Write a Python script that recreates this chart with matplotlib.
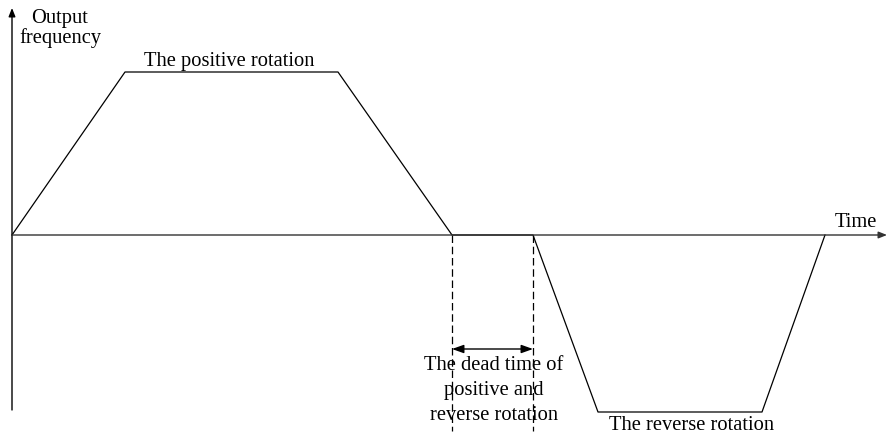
import matplotlib.pyplot as plt

plt.rcParams['font.family'] = ['Liberation Serif', 'DejaVu Serif']

# waveform: time vs output frequency
t = [0, 113, 326, 440, 521, 586, 750, 813]
f = [0, 163, 163, 0, 0, -177, -177, 0]

t_dead = [440, 521]

fig = plt.figure(figsize=(8.87, 4.39), dpi=100)
ax = fig.add_axes([0, 0, 1, 1])
ax.set_xlim(-12, 875)
ax.set_ylim(-203, 236)
ax.axis('off')

# axes with arrows
ax.annotate('', xy=(0, 227), xytext=(0, -175),
            arrowprops=dict(arrowstyle='-|>,head_length=0.5,head_width=0.2',
                            color='black', lw=1.0,
                            mutation_scale=10, shrinkA=0, shrinkB=0))
ax.annotate('', xy=(875, 0), xytext=(0, 0),
            arrowprops=dict(arrowstyle='-|>,head_length=0.5,head_width=0.2',
                            color='#333333', lw=1.0,
                            mutation_scale=10, shrinkA=0, shrinkB=0))

ax.plot(t, f, color='black', lw=0.9)

# dead time markers
for x in t_dead:
    ax.plot([x, x], [0, -196], color='black', lw=0.9, ls=(0, (6, 3)))
ax.annotate('', xy=(t_dead[0], -114), xytext=(t_dead[1], -114),
            arrowprops=dict(arrowstyle='<|-|>,head_length=0.7,head_width=0.25',
                            color='black', lw=1.0,
                            mutation_scale=10, shrinkA=0, shrinkB=0))

fs = 14.8
ax.text(48, 213, 'Output', ha='center', va='baseline', fontsize=fs)
ax.text(48, 193, 'frequency', ha='center', va='baseline', fontsize=fs)
ax.text(217, 170, 'The positive rotation', ha='center', va='baseline', fontsize=fs)
ax.text(865, 9, 'Time', ha='right', va='baseline', fontsize=fs)
dead_lines = ['The dead time of', 'positive and', 'reverse rotation']
for i, s in enumerate(dead_lines):
    ax.text(482, -134 - 25 * i, s, ha='center', va='baseline', fontsize=fs)
ax.text(680, -194, 'The reverse rotation', ha='center', va='baseline', fontsize=fs)

fig.savefig('out.png', dpi=100)
